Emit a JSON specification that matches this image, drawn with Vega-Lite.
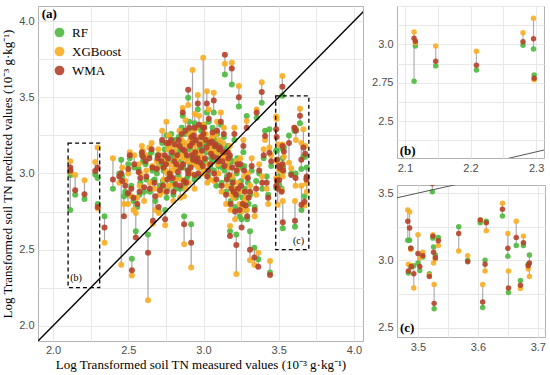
{
"$schema":"https://vega.github.io/schema/vega-lite/v6.json",
"background":"white",
"padding":{"left":1,"top":5,"right":2,"bottom":0},
"config":{
 "view":{"stroke":"#b3b3b3","strokeWidth":1},
 "axis":{"labelFont":"Liberation Sans","labelFontSize":11,"labelColor":"#4d4d4d","titleFont":"Liberation Serif","titleFontSize":13,"titleFontWeight":"normal","titleColor":"#000000","gridColor":"#e8e8e8","gridWidth":1,"domain":false,"ticks":false,"labelPadding":4}
},
"datasets":{
 "obs":[
  {"x":2.114,"RF":2.76,"XGBoost":3.08,"WMA":3.04},
  {"x":2.116,"RF":2.99,"XGBoost":3.01,"WMA":3.02},
  {"x":2.147,"RF":2.86,"XGBoost":2.99,"WMA":2.89},
  {"x":2.209,"RF":2.833,"XGBoost":2.955,"WMA":2.864},
  {"x":2.28,"RF":2.994,"XGBoost":3.076,"WMA":3.017},
  {"x":2.296,"RF":2.97,"XGBoost":3.17,"WMA":3.037},
  {"x":2.297,"RF":2.8,"XGBoost":2.77,"WMA":2.78},
  {"x":2.342,"RF":2.72,"XGBoost":2.546,"WMA":2.645},
  {"x":2.398,"RF":2.9,"XGBoost":3.1,"WMA":2.96},
  {"x":2.453,"RF":3.09,"XGBoost":2.4,"WMA":3.0},
  {"x":2.471,"RF":2.85,"XGBoost":2.8,"WMA":2.72},
  {"x":2.46,"RF":2.98,"XGBoost":3.04,"WMA":2.95},
  {"x":2.524,"RF":2.44,"XGBoost":2.33,"WMA":2.365},
  {"x":2.498,"RF":2.86,"XGBoost":2.8,"WMA":2.87},
  {"x":2.535,"RF":2.82,"XGBoost":2.76,"WMA":2.84},
  {"x":2.55,"RF":2.62,"XGBoost":2.74,"WMA":2.58},
  {"x":2.569,"RF":3.03,"XGBoost":3.06,"WMA":3.01},
  {"x":2.598,"RF":3.08,"XGBoost":3.15,"WMA":3.11},
  {"x":2.605,"RF":2.88,"XGBoost":2.82,"WMA":2.91},
  {"x":2.631,"RF":2.6,"XGBoost":2.168,"WMA":2.48},
  {"x":2.64,"RF":3.12,"XGBoost":3.17,"WMA":3.1},
  {"x":2.664,"RF":2.95,"XGBoost":2.67,"WMA":2.69},
  {"x":2.66,"RF":3.02,"XGBoost":3.05,"WMA":3.04},
  {"x":2.702,"RF":2.75,"XGBoost":2.74,"WMA":2.78},
  {"x":2.7,"RF":3.08,"XGBoost":3.16,"WMA":3.12},
  {"x":2.753,"RF":3.25,"XGBoost":3.34,"WMA":3.2},
  {"x":2.745,"RF":2.76,"XGBoost":2.66,"WMA":2.7},
  {"x":2.871,"RF":2.72,"XGBoost":2.535,"WMA":2.667},
  {"x":2.918,"RF":2.667,"XGBoost":2.382,"WMA":2.546},
  {"x":2.862,"RF":3.38,"XGBoost":3.43,"WMA":3.4},
  {"x":2.942,"RF":3.33,"XGBoost":3.39,"WMA":3.3},
  {"x":3.176,"RF":2.62,"XGBoost":2.656,"WMA":2.59},
  {"x":3.218,"RF":2.6,"XGBoost":2.34,"WMA":2.53},
  {"x":3.253,"RF":2.7,"XGBoost":2.75,"WMA":2.645},
  {"x":3.309,"RF":2.62,"XGBoost":2.43,"WMA":2.5},
  {"x":3.338,"RF":2.513,"XGBoost":2.4,"WMA":2.448},
  {"x":3.364,"RF":2.437,"XGBoost":2.48,"WMA":2.387},
  {"x":3.442,"RF":2.35,"XGBoost":2.426,"WMA":2.334},
  {"x":3.3,"RF":2.8,"XGBoost":2.88,"WMA":2.84},
  {"x":3.32,"RF":3.02,"XGBoost":3.1,"WMA":3.05},
  {"x":3.35,"RF":2.95,"XGBoost":2.86,"WMA":2.9},
  {"x":3.387,"RF":3.465,"XGBoost":3.6,"WMA":3.535},
  {"x":3.409,"RF":3.28,"XGBoost":3.22,"WMA":3.246},
  {"x":3.438,"RF":3.29,"XGBoost":3.17,"WMA":3.137},
  {"x":3.353,"RF":3.366,"XGBoost":3.42,"WMA":3.4},
  {"x":3.287,"RF":3.377,"XGBoost":3.344,"WMA":3.3},
  {"x":3.42,"RF":2.98,"XGBoost":2.9,"WMA":2.94},
  {"x":3.45,"RF":3.05,"XGBoost":3.12,"WMA":3.08},
  {"x":3.142,"RF":3.65,"XGBoost":3.72,"WMA":3.78},
  {"x":3.188,"RF":3.585,"XGBoost":3.727,"WMA":3.69},
  {"x":2.998,"RF":3.2,"XGBoost":3.76,"WMA":3.3},
  {"x":2.927,"RF":3.1,"XGBoost":3.68,"WMA":3.2},
  {"x":2.898,"RF":3.497,"XGBoost":3.45,"WMA":3.55},
  {"x":3.022,"RF":3.4,"XGBoost":3.54,"WMA":3.46},
  {"x":3.068,"RF":3.4,"XGBoost":3.53,"WMA":3.48},
  {"x":2.962,"RF":3.42,"XGBoost":3.515,"WMA":3.46},
  {"x":3.235,"RF":3.44,"XGBoost":3.574,"WMA":3.5},
  {"x":3.524,"RF":3.51,"XGBoost":3.64,"WMA":3.57},
  {"x":2.72,"RF":3.05,"XGBoost":3.12,"WMA":3.08},
  {"x":2.73,"RF":2.95,"XGBoost":2.88,"WMA":2.92},
  {"x":2.75,"RF":3.1,"XGBoost":3.02,"WMA":3.06},
  {"x":2.76,"RF":2.9,"XGBoost":3.0,"WMA":2.96},
  {"x":2.77,"RF":3.18,"XGBoost":3.25,"WMA":3.2},
  {"x":2.78,"RF":3.0,"XGBoost":2.92,"WMA":2.98},
  {"x":2.79,"RF":3.12,"XGBoost":3.2,"WMA":3.14},
  {"x":2.8,"RF":2.86,"XGBoost":2.82,"WMA":2.88},
  {"x":2.81,"RF":3.22,"XGBoost":3.15,"WMA":3.19},
  {"x":2.82,"RF":3.04,"XGBoost":3.1,"WMA":3.06},
  {"x":2.83,"RF":2.98,"XGBoost":3.06,"WMA":3.01},
  {"x":2.84,"RF":3.15,"XGBoost":3.28,"WMA":3.18},
  {"x":2.85,"RF":3.08,"XGBoost":2.96,"WMA":3.04},
  {"x":2.86,"RF":3.2,"XGBoost":3.12,"WMA":3.16},
  {"x":2.87,"RF":2.92,"XGBoost":2.85,"WMA":2.95},
  {"x":2.88,"RF":3.26,"XGBoost":3.35,"WMA":3.28},
  {"x":2.89,"RF":3.1,"XGBoost":3.18,"WMA":3.12},
  {"x":2.9,"RF":3.02,"XGBoost":2.94,"WMA":3.0},
  {"x":2.91,"RF":3.16,"XGBoost":3.22,"WMA":3.18},
  {"x":2.92,"RF":3.28,"XGBoost":3.2,"WMA":3.24},
  {"x":2.93,"RF":3.06,"XGBoost":3.14,"WMA":3.09},
  {"x":2.94,"RF":2.96,"XGBoost":2.9,"WMA":2.99},
  {"x":2.95,"RF":3.2,"XGBoost":3.3,"WMA":3.22},
  {"x":2.96,"RF":3.12,"XGBoost":3.05,"WMA":3.1},
  {"x":2.97,"RF":3.3,"XGBoost":3.38,"WMA":3.32},
  {"x":2.98,"RF":3.04,"XGBoost":3.12,"WMA":3.07},
  {"x":2.99,"RF":3.18,"XGBoost":3.1,"WMA":3.15},
  {"x":3.0,"RF":3.24,"XGBoost":3.32,"WMA":3.26},
  {"x":3.01,"RF":3.08,"XGBoost":3.02,"WMA":3.1},
  {"x":3.02,"RF":3.14,"XGBoost":3.22,"WMA":3.17},
  {"x":3.03,"RF":2.98,"XGBoost":3.06,"WMA":3.02},
  {"x":3.04,"RF":3.22,"XGBoost":3.15,"WMA":3.2},
  {"x":3.05,"RF":3.1,"XGBoost":3.18,"WMA":3.13},
  {"x":3.06,"RF":3.3,"XGBoost":3.24,"WMA":3.27},
  {"x":3.07,"RF":3.02,"XGBoost":2.95,"WMA":3.0},
  {"x":3.08,"RF":3.16,"XGBoost":3.26,"WMA":3.19},
  {"x":3.09,"RF":3.26,"XGBoost":3.34,"WMA":3.28},
  {"x":3.1,"RF":3.05,"XGBoost":3.0,"WMA":3.08},
  {"x":3.11,"RF":3.2,"XGBoost":3.12,"WMA":3.17},
  {"x":3.12,"RF":2.94,"XGBoost":2.88,"WMA":2.92},
  {"x":3.13,"RF":3.12,"XGBoost":3.2,"WMA":3.14},
  {"x":3.14,"RF":3.02,"XGBoost":3.1,"WMA":3.05},
  {"x":3.15,"RF":2.88,"XGBoost":2.8,"WMA":2.86},
  {"x":3.16,"RF":3.18,"XGBoost":3.08,"WMA":3.14},
  {"x":3.17,"RF":2.96,"XGBoost":3.04,"WMA":2.99},
  {"x":3.18,"RF":2.82,"XGBoost":2.76,"WMA":2.8},
  {"x":3.19,"RF":3.08,"XGBoost":2.98,"WMA":3.04},
  {"x":3.2,"RF":2.9,"XGBoost":2.84,"WMA":2.88},
  {"x":3.21,"RF":2.78,"XGBoost":2.7,"WMA":2.75},
  {"x":3.22,"RF":3.0,"XGBoost":3.08,"WMA":3.02},
  {"x":3.23,"RF":2.86,"XGBoost":2.94,"WMA":2.9},
  {"x":3.24,"RF":2.72,"XGBoost":2.8,"WMA":2.76},
  {"x":3.25,"RF":2.95,"XGBoost":2.88,"WMA":2.92},
  {"x":3.26,"RF":2.84,"XGBoost":2.78,"WMA":2.8},
  {"x":3.27,"RF":3.05,"XGBoost":2.98,"WMA":3.02},
  {"x":3.28,"RF":2.76,"XGBoost":2.84,"WMA":2.79},
  {"x":2.62,"RF":2.96,"XGBoost":3.02,"WMA":2.98},
  {"x":2.643,"RF":2.88,"XGBoost":2.94,"WMA":2.9},
  {"x":2.655,"RF":3.14,"XGBoost":3.2,"WMA":3.16},
  {"x":2.68,"RF":2.82,"XGBoost":2.76,"WMA":2.85},
  {"x":2.69,"RF":3.0,"XGBoost":3.08,"WMA":3.03},
  {"x":2.71,"RF":2.92,"XGBoost":2.86,"WMA":2.89},
  {"x":2.58,"RF":2.94,"XGBoost":3.0,"WMA":2.97},
  {"x":2.56,"RF":2.78,"XGBoost":2.84,"WMA":2.8},
  {"x":2.54,"RF":3.04,"XGBoost":3.12,"WMA":3.06},
  {"x":2.52,"RF":2.92,"XGBoost":2.85,"WMA":2.9},
  {"x":2.5,"RF":3.06,"XGBoost":3.0,"WMA":3.03},
  {"x":2.48,"RF":2.88,"XGBoost":2.95,"WMA":2.92},
  {"x":2.775,"RF":2.98,"XGBoost":3.06,"WMA":3.0},
  {"x":2.805,"RF":3.1,"XGBoost":3.04,"WMA":3.08},
  {"x":2.835,"RF":3.24,"XGBoost":3.18,"WMA":3.22},
  {"x":2.865,"RF":3.04,"XGBoost":3.1,"WMA":3.06},
  {"x":2.895,"RF":2.98,"XGBoost":3.08,"WMA":3.02},
  {"x":2.925,"RF":3.14,"XGBoost":3.06,"WMA":3.12},
  {"x":2.955,"RF":3.06,"XGBoost":3.14,"WMA":3.08},
  {"x":2.985,"RF":3.28,"XGBoost":3.2,"WMA":3.24},
  {"x":3.015,"RF":3.2,"XGBoost":3.26,"WMA":3.22},
  {"x":3.045,"RF":3.04,"XGBoost":2.96,"WMA":3.06},
  {"x":3.075,"RF":3.22,"XGBoost":3.14,"WMA":3.18},
  {"x":3.105,"RF":3.14,"XGBoost":3.22,"WMA":3.16},
  {"x":3.135,"RF":3.24,"XGBoost":3.3,"WMA":3.26},
  {"x":3.165,"RF":3.06,"XGBoost":3.14,"WMA":3.1},
  {"x":3.195,"RF":2.96,"XGBoost":2.9,"WMA":2.94},
  {"x":3.225,"RF":3.1,"XGBoost":3.02,"WMA":3.06},
  {"x":2.742,"RF":3.16,"XGBoost":3.08,"WMA":3.12},
  {"x":2.815,"RF":2.9,"XGBoost":2.96,"WMA":2.93},
  {"x":2.905,"RF":3.34,"XGBoost":3.26,"WMA":3.3},
  {"x":3.035,"RF":3.34,"XGBoost":3.42,"WMA":3.36},
  {"x":3.085,"RF":2.92,"XGBoost":3.0,"WMA":2.96},
  {"x":3.115,"RF":3.32,"XGBoost":3.4,"WMA":3.34},
  {"x":3.205,"RF":3.22,"XGBoost":3.3,"WMA":3.26},
  {"x":3.265,"RF":3.14,"XGBoost":3.22,"WMA":3.18},
  {"x":3.295,"RF":2.94,"XGBoost":3.0,"WMA":2.97},
  {"x":2.725,"RF":3.2,"XGBoost":3.28,"WMA":3.22},
  {"x":2.735,"RF":3.02,"XGBoost":2.96,"WMA":3.04},
  {"x":2.755,"RF":2.84,"XGBoost":2.92,"WMA":2.88},
  {"x":2.765,"RF":3.08,"XGBoost":3.16,"WMA":3.1},
  {"x":2.785,"RF":3.26,"XGBoost":3.18,"WMA":3.22},
  {"x":2.795,"RF":2.94,"XGBoost":3.02,"WMA":2.97},
  {"x":2.825,"RF":3.14,"XGBoost":3.06,"WMA":3.12},
  {"x":2.845,"RF":2.9,"XGBoost":2.84,"WMA":2.92},
  {"x":2.855,"RF":3.3,"XGBoost":3.22,"WMA":3.26},
  {"x":2.875,"RF":3.12,"XGBoost":3.2,"WMA":3.15},
  {"x":2.885,"RF":2.96,"XGBoost":2.9,"WMA":2.94},
  {"x":2.915,"RF":3.06,"XGBoost":3.0,"WMA":3.04},
  {"x":2.935,"RF":3.22,"XGBoost":3.28,"WMA":3.25},
  {"x":2.945,"RF":3.1,"XGBoost":3.18,"WMA":3.14},
  {"x":2.965,"RF":2.98,"XGBoost":3.04,"WMA":3.0},
  {"x":2.975,"RF":3.16,"XGBoost":3.24,"WMA":3.19},
  {"x":2.995,"RF":3.08,"XGBoost":3.0,"WMA":3.05},
  {"x":3.005,"RF":3.32,"XGBoost":3.26,"WMA":3.3},
  {"x":3.025,"RF":3.0,"XGBoost":2.94,"WMA":2.98},
  {"x":3.055,"RF":3.18,"XGBoost":3.24,"WMA":3.21},
  {"x":3.065,"RF":3.08,"XGBoost":3.14,"WMA":3.11},
  {"x":3.095,"RF":3.12,"XGBoost":3.06,"WMA":3.1},
  {"x":3.125,"RF":3.04,"XGBoost":3.12,"WMA":3.08},
  {"x":3.145,"RF":3.16,"XGBoost":3.1,"WMA":3.14},
  {"x":3.155,"RF":2.98,"XGBoost":2.92,"WMA":2.96},
  {"x":3.175,"RF":3.1,"XGBoost":3.18,"WMA":3.12},
  {"x":3.185,"RF":2.92,"XGBoost":2.86,"WMA":2.9},
  {"x":3.215,"RF":2.84,"XGBoost":2.9,"WMA":2.86},
  {"x":3.245,"RF":3.04,"XGBoost":3.1,"WMA":3.06},
  {"x":3.275,"RF":2.9,"XGBoost":2.82,"WMA":2.88},
  {"x":3.29,"RF":2.7,"XGBoost":2.76,"WMA":2.72},
  {"x":3.31,"RF":2.86,"XGBoost":2.92,"WMA":2.88},
  {"x":3.34,"RF":2.78,"XGBoost":2.72,"WMA":2.76},
  {"x":3.37,"RF":3.0,"XGBoost":3.06,"WMA":3.02},
  {"x":3.39,"RF":2.9,"XGBoost":2.98,"WMA":2.94},
  {"x":3.4,"RF":3.1,"XGBoost":3.16,"WMA":3.12},
  {"x":3.43,"RF":2.86,"XGBoost":2.8,"WMA":2.84},
  {"x":2.44,"RF":3.0,"XGBoost":2.94,"WMA":2.98},
  {"x":2.51,"RF":3.1,"XGBoost":3.14,"WMA":3.12},
  {"x":2.575,"RF":2.86,"XGBoost":2.92,"WMA":2.88},
  {"x":2.615,"RF":3.06,"XGBoost":3.12,"WMA":3.08},
  {"x":2.675,"RF":2.96,"XGBoost":2.9,"WMA":2.94},
  {"x":2.695,"RF":3.12,"XGBoost":3.04,"WMA":3.1},
  {"x":2.59,"RF":3.12,"XGBoost":3.18,"WMA":3.14},
  {"x":3.483,"RF":3.15,"XGBoost":3.375,"WMA":3.29},
  {"x":3.486,"RF":3.15,"XGBoost":3.36,"WMA":3.24},
  {"x":3.488,"RF":3.09,"XGBoost":3.08,"WMA":3.09},
  {"x":3.484,"RF":2.905,"XGBoost":2.97,"WMA":2.92},
  {"x":3.489,"RF":2.95,"XGBoost":2.96,"WMA":2.955},
  {"x":3.493,"RF":2.96,"XGBoost":2.795,"WMA":2.9},
  {"x":3.5,"RF":2.98,"XGBoost":3.19,"WMA":3.05},
  {"x":3.503,"RF":2.925,"XGBoost":3.02,"WMA":2.955},
  {"x":3.508,"RF":3.025,"XGBoost":3.06,"WMA":3.035},
  {"x":3.519,"RF":2.9,"XGBoost":2.89,"WMA":2.88},
  {"x":3.525,"RF":3.165,"XGBoost":3.19,"WMA":3.18},
  {"x":3.526,"RF":3.1,"XGBoost":2.98,"WMA":3.06},
  {"x":3.527,"RF":2.64,"XGBoost":2.82,"WMA":2.68},
  {"x":3.529,"RF":3.04,"XGBoost":3.01,"WMA":3.02},
  {"x":3.534,"RF":3.17,"XGBoost":3.11,"WMA":3.145},
  {"x":3.568,"RF":3.25,"XGBoost":3.07,"WMA":3.2},
  {"x":3.583,"RF":3.0,"XGBoost":3.035,"WMA":2.99},
  {"x":3.604,"RF":3.28,"XGBoost":3.3,"WMA":3.3},
  {"x":3.608,"RF":2.65,"XGBoost":2.82,"WMA":2.69},
  {"x":3.612,"RF":3.0,"XGBoost":2.92,"WMA":2.97},
  {"x":3.614,"RF":3.29,"XGBoost":3.22,"WMA":3.28},
  {"x":3.641,"RF":3.33,"XGBoost":3.425,"WMA":3.38},
  {"x":3.65,"RF":3.03,"XGBoost":3.2,"WMA":3.09},
  {"x":3.651,"RF":2.76,"XGBoost":2.92,"WMA":2.795},
  {"x":3.664,"RF":3.11,"XGBoost":3.29,"WMA":3.17},
  {"x":3.671,"RF":2.85,"XGBoost":2.79,"WMA":2.815},
  {"x":3.676,"RF":3.11,"XGBoost":3.18,"WMA":3.13},
  {"x":3.684,"RF":2.97,"XGBoost":2.935,"WMA":2.96},
  {"x":3.686,"RF":3.04,"XGBoost":2.88,"WMA":2.98}
 ],
 "diag":[{"x":1.8,"y":1.8},{"x":4.3,"y":4.3}],
 "boxes":[{"x":2.1,"x2":2.31,"y":2.25,"y2":3.2},{"x":3.48,"x2":3.7,"y":2.5,"y2":3.51}]
},
"resolve":{"scale":{"color":"independent"},"legend":{"color":"independent"}},
"spacing":7,
"hconcat":[
 {
  "width":325,"height":335,
  "encoding":{
   "x":{"field":"x","type":"quantitative","scale":{"domain":[1.9,4.06],"nice":false,"zero":false},"axis":{"title":"Log Transformed soil TN measured values (10⁻³ g·kg⁻¹)","titlePadding":3,"labelPadding":3,"values":[2,2.25,2.5,2.75,3,3.25,3.5,3.75,4],"labelExpr":"(datum.value*2)%1==0 ? format(datum.value,'.1f') : ''"}},
   "y":{"field":"y","type":"quantitative","scale":{"domain":[1.9,4.1],"nice":false,"zero":false},"axis":{"title":"Log Transformed soil TN predicted values (10⁻³ g·kg⁻¹)","titlePadding":4,"values":[2,2.25,2.5,2.75,3,3.25,3.5,3.75,4],"labelExpr":"(datum.value*2)%1==0 ? format(datum.value,'.1f') : ''"}}
  },
  "layer":[
   {"data":{"name":"obs"},"transform":[{"window":[{"op":"row_number","as":"id"}]},{"fold":["RF","XGBoost","WMA"],"as":["Model","y"]}],
    "mark":{"type":"rule","color":"#a6a6a6","strokeWidth":1.2,"clip":true},
    "encoding":{"y":{"field":"y","aggregate":"min","type":"quantitative"},"y2":{"field":"y","aggregate":"max"},"detail":{"field":"id","type":"nominal"}}},
   {"data":{"name":"obs"},"transform":[{"fold":["RF"],"as":["Model","y"]}],
    "mark":{"type":"circle","size":36,"opacity":0.9,"clip":true},
    "encoding":{"color":{"field":"Model","type":"nominal","scale":{"domain":["RF","XGBoost","WMA"],"range":["#4cb93e","#f9ad22","#b5412a"]},
      "legend":{"title":null,"orient":"none","legendX":15,"legendY":20,"padding":0,"labelFont":"Liberation Serif","labelFontSize":13,"labelColor":"#000000","symbolType":"circle","symbolSize":95,"symbolOpacity":1,"symbolStrokeWidth":0,"rowPadding":5,"labelOffset":6}}}},
   {"data":{"name":"obs"},"transform":[{"fold":["XGBoost"],"as":["Model","y"]}],
    "mark":{"type":"circle","size":36,"opacity":0.9,"clip":true},
    "encoding":{"color":{"field":"Model","type":"nominal","scale":{"domain":["RF","XGBoost","WMA"],"range":["#4cb93e","#f9ad22","#b5412a"]}}}},
   {"data":{"name":"obs"},"transform":[{"fold":["WMA"],"as":["Model","y"]}],
    "mark":{"type":"circle","size":36,"opacity":0.9,"clip":true},
    "encoding":{"color":{"field":"Model","type":"nominal","scale":{"domain":["RF","XGBoost","WMA"],"range":["#4cb93e","#f9ad22","#b5412a"]}}}},
   {"data":{"name":"diag"},"mark":{"type":"line","color":"#000000","strokeWidth":1.4,"clip":true},"encoding":{}},
   {"data":{"name":"boxes"},"mark":{"type":"rect","filled":false,"stroke":"#000000","strokeWidth":1.3,"strokeDash":[4,3]},"encoding":{"x2":{"field":"x2"},"y2":{"field":"y2"}}},
   {"data":{"values":[{"x":1.925,"y":4.045}]},"mark":{"type":"text","text":"(a)","font":"Liberation Serif","fontWeight":"bold","fontSize":13,"align":"left","baseline":"middle"}},
   {"data":{"values":[{"x":2.153,"y":2.317}]},"mark":{"type":"text","text":"(b)","font":"Liberation Serif","fontSize":10}},
   {"data":{"values":[{"x":3.631,"y":2.557}]},"mark":{"type":"text","text":"(c)","font":"Liberation Serif","fontSize":10}}
  ]
 },
 {
  "spacing":10,
  "vconcat":[
   {
    "width":147,"height":152,
    "encoding":{
     "x":{"field":"x","type":"quantitative","scale":{"domain":[2.088,2.312],"nice":false,"zero":false},"axis":{"title":null,"values":[2.1,2.15,2.2,2.25,2.3],"labelExpr":"abs(datum.value*10-round(datum.value*10))<0.01 ? format(datum.value,'.1f') : ''"}},
     "y":{"field":"y","type":"quantitative","scale":{"domain":[2.26,3.25],"nice":false,"zero":false},"axis":{"title":null,"values":[2.375,2.5,2.625,2.75,2.875,3,3.125,3.25],"labelExpr":"datum.value==2.5?'2.5':datum.value==2.75?'2.75':datum.value==3?'3.0':''"}}
    },
    "layer":[
     {"data":{"name":"obs"},"transform":[{"window":[{"op":"row_number","as":"id"}]},{"fold":["RF","XGBoost","WMA"],"as":["Model","y"]}],
      "mark":{"type":"rule","color":"#b0b0b0","strokeWidth":1.2,"clip":true},
      "encoding":{"y":{"field":"y","aggregate":"min","type":"quantitative"},"y2":{"field":"y","aggregate":"max"},"detail":{"field":"id","type":"nominal"}}},
     {"data":{"name":"obs"},"transform":[{"fold":["RF"],"as":["Model","y"]}],
      "mark":{"type":"circle","size":30,"opacity":0.9,"clip":true},
      "encoding":{"color":{"field":"Model","type":"nominal","scale":{"domain":["RF","XGBoost","WMA"],"range":["#4cb93e","#f9ad22","#b5412a"]},"legend":null}}},
     {"data":{"name":"obs"},"transform":[{"fold":["XGBoost"],"as":["Model","y"]}],
      "mark":{"type":"circle","size":30,"opacity":0.9,"clip":true},
      "encoding":{"color":{"field":"Model","type":"nominal","scale":{"domain":["RF","XGBoost","WMA"],"range":["#4cb93e","#f9ad22","#b5412a"]},"legend":null}}},
     {"data":{"name":"obs"},"transform":[{"fold":["WMA"],"as":["Model","y"]}],
      "mark":{"type":"circle","size":30,"opacity":0.9,"clip":true},
      "encoding":{"color":{"field":"Model","type":"nominal","scale":{"domain":["RF","XGBoost","WMA"],"range":["#4cb93e","#f9ad22","#b5412a"]},"legend":null}}},
     {"data":{"name":"diag"},"mark":{"type":"line","color":"#555555","strokeWidth":1,"clip":true},"encoding":{}},
     {"data":{"values":[{"x":2.092,"y":2.305}]},"mark":{"type":"text","text":"(b)","font":"Liberation Serif","fontWeight":"bold","fontSize":13,"align":"left","baseline":"middle"}}
    ]
   },
   {
    "width":148,"height":152,
    "encoding":{
     "x":{"field":"x","type":"quantitative","scale":{"domain":[3.465,3.712],"nice":false,"zero":false},"axis":{"title":null,"values":[3.5,3.55,3.6,3.65,3.7],"labelExpr":"abs(datum.value*10-round(datum.value*10))<0.01 ? format(datum.value,'.1f') : ''"}},
     "y":{"field":"y","type":"quantitative","scale":{"domain":[2.43,3.56],"nice":false,"zero":false},"axis":{"title":null,"values":[2.5,2.75,3,3.25,3.5],"labelExpr":"datum.value==2.5?'2.5':datum.value==3?'3.0':datum.value==3.5?'3.5':''"}}
    },
    "layer":[
     {"data":{"name":"obs"},"transform":[{"window":[{"op":"row_number","as":"id"}]},{"fold":["RF","XGBoost","WMA"],"as":["Model","y"]}],
      "mark":{"type":"rule","color":"#b0b0b0","strokeWidth":1.2,"clip":true},
      "encoding":{"y":{"field":"y","aggregate":"min","type":"quantitative"},"y2":{"field":"y","aggregate":"max"},"detail":{"field":"id","type":"nominal"}}},
     {"data":{"name":"obs"},"transform":[{"fold":["RF"],"as":["Model","y"]}],
      "mark":{"type":"circle","size":30,"opacity":0.9,"clip":true},
      "encoding":{"color":{"field":"Model","type":"nominal","scale":{"domain":["RF","XGBoost","WMA"],"range":["#4cb93e","#f9ad22","#b5412a"]},"legend":null}}},
     {"data":{"name":"obs"},"transform":[{"fold":["XGBoost"],"as":["Model","y"]}],
      "mark":{"type":"circle","size":30,"opacity":0.9,"clip":true},
      "encoding":{"color":{"field":"Model","type":"nominal","scale":{"domain":["RF","XGBoost","WMA"],"range":["#4cb93e","#f9ad22","#b5412a"]},"legend":null}}},
     {"data":{"name":"obs"},"transform":[{"fold":["WMA"],"as":["Model","y"]}],
      "mark":{"type":"circle","size":30,"opacity":0.9,"clip":true},
      "encoding":{"color":{"field":"Model","type":"nominal","scale":{"domain":["RF","XGBoost","WMA"],"range":["#4cb93e","#f9ad22","#b5412a"]},"legend":null}}},
     {"data":{"name":"diag"},"mark":{"type":"line","color":"#555555","strokeWidth":1,"clip":true},"encoding":{}},
     {"data":{"values":[{"x":3.47,"y":2.5}]},"mark":{"type":"text","text":"(c)","font":"Liberation Serif","fontWeight":"bold","fontSize":13,"align":"left","baseline":"middle"}}
    ]
   }
  ]
 }
]
}
